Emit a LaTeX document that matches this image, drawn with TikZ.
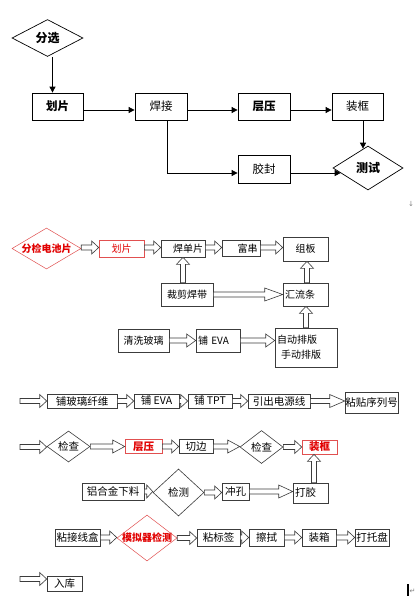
\documentclass[tikz,border=0pt]{standalone}
\usepackage{fontspec}
\setmainfont{Noto Sans CJK SC}
\newfontfamily\djv{DejaVu Sans}
\usetikzlibrary{shapes.geometric,arrows.meta,calc}
\newcommand\zw[1]{\makebox[0pt]{#1}}
\newcommand\hrarrow[3][7pt]{\path[hollow] let \p1=#2, \p2=#3 in
  (\x1,\y1-2.5pt) -- (\x2-#1,\y1-2.5pt) -- (\x2-#1,\y1-6.5pt) -- (\x2,\y1) -- (\x2-#1,\y1+6.5pt) -- (\x2-#1,\y1+2.5pt) -- (\x1,\y1+2.5pt) -- cycle;}
\newcommand\vuarrow[3][7pt]{\path[hollow] let \p1=#2, \p2=#3 in
  (\x1-2.5pt,\y1) -- (\x1-2.5pt,\y2-#1) -- (\x1-6.5pt,\y2-#1) -- (\x1,\y2) -- (\x1+6.5pt,\y2-#1) -- (\x1+2.5pt,\y2-#1) -- (\x1+2.5pt,\y1) -- cycle;}
\definecolor{lred}{RGB}{225,80,80}
\definecolor{tred}{RGB}{225,0,0}
\definecolor{lgray}{RGB}{60,60,60}
\tikzset{
  topbox/.style={draw=black, line width=0.8pt, inner sep=0pt, font=\fontsize{11.5}{12}\selectfont},
  topboxb/.style={topbox, font=\bfseries\fontsize{11.5}{12}\selectfont},
  topdia/.style={diamond, draw=black, line width=0.7pt, inner sep=0pt, font=\bfseries\fontsize{12}{12}\selectfont},
  arr/.style={draw=black, line width=0.8pt, -{Triangle[length=6pt,width=6pt]}},
  sbox/.style={draw=lgray, line width=0.6pt, inner sep=0pt, font=\fontsize{10}{12}\selectfont},
  lbox/.style={draw=lgray, line width=0.6pt, inner sep=0pt, font=\fontsize{10.5}{12}\selectfont},
  ldia/.style={diamond, draw=lgray, line width=0.6pt, inner sep=0pt, font=\fontsize{10.5}{12}\selectfont},
  redbox/.style={draw=lred, line width=0.6pt, inner sep=0pt, text=tred, font=\bfseries\fontsize{10.5}{12}\selectfont},
  reddia/.style={diamond, draw=lred, line width=0.5pt, inner sep=0pt, text=tred, font=\bfseries\fontsize{10.5}{12}\selectfont},
  hollow/.style={draw=lgray, line width=0.6pt, fill=white},
  lft/.style={align=left, text width=#1, inner xsep=2pt},
  rgt/.style={align=right, text width=#1, inner xsep=2pt},
}
\begin{document}
\begin{tikzpicture}[x=1pt,y=-1pt]
\useasboundingbox[fill=white] (0,0) rectangle (416,600);
% ---------- top flowchart ----------
\node[topdia, minimum width=71pt, minimum height=37pt] (fx) at (47.5,38) {\zw{分选}};
\node[topboxb, minimum width=51pt, minimum height=27pt] (hp1) at (57.5,106.5) {划片};
\node[topbox, minimum width=52pt, minimum height=27pt] (hj) at (161,106.5) {焊接};
\node[topboxb, minimum width=52pt, minimum height=27pt] (cy) at (264,106.5) {层压};
\node[topbox, minimum width=51pt, minimum height=27pt] (zk) at (357.5,106.5) {装框};
\node[topbox, minimum width=52pt, minimum height=28pt] (jf) at (264,169) {胶封};
\node[topdia, minimum width=70pt, minimum height=44pt] (cs) at (368,168) {\zw{测试}};
\draw[arr] ([xshift=5pt]fx.south) -- ([xshift=5pt]fx.south |- hp1.north);
\draw[arr] ([yshift=-3.5pt]hp1.east) -- ([yshift=-3.5pt]hj.west);
\draw[arr] ([yshift=-3.5pt]hj.east) -- ([yshift=-3.5pt]cy.west);
\draw[arr] ([yshift=-3.5pt]cy.east) -- ([yshift=-3.5pt]zk.west);
\draw[arr] ([xshift=5.5pt]zk.south) -- ([xshift=5.5pt,yshift=-3pt]zk.south |- cs.north);
\draw[arr] ([xshift=6pt]hj.south) |- ([yshift=-4pt]jf.west);
\draw[arr] ([yshift=-4pt]jf.east) -- ([xshift=8pt,yshift=-5pt]cs.west);
\node[text=gray, font=\djv\fontsize{7}{8}\selectfont, inner sep=0pt] (m1) at (411,204) {↓};
% ---------- second block ----------
\node[reddia, minimum width=69pt, minimum height=41pt, font=\bfseries\fontsize{10}{12}\selectfont] (fj) at (46.5,248.5) {\zw{分检电池片}};
\node[redbox, minimum width=45pt, minimum height=17pt, font=\fontsize{10}{12}\selectfont] (hp2) at (121.5,248.5) {划片};
\node[sbox, minimum width=44pt, minimum height=17pt, rgt=40pt] (hdp) at (183,248.5) {焊单片};
\node[sbox, minimum width=38pt, minimum height=16pt, rgt=33pt] (fc) at (241,248.5) {富串};
\node[sbox, minimum width=45pt, minimum height=24pt] (zb) at (305.5,249) {组板};
\node[sbox, minimum width=52pt, minimum height=23pt] (cjhd) at (187,294.5) {裁剪焊带};
\node[sbox, minimum width=45pt, minimum height=23pt, lft=41pt] (hlt) at (305.5,294.5) {汇流条};
\node[sbox, minimum width=51pt, minimum height=23pt] (qxbl) at (143.5,340.5) {清洗玻璃};
\node[sbox, minimum width=44pt, minimum height=23pt, lft=40pt] (peva) at (218,340.5) {铺 EVA};
\node[sbox, minimum width=62pt, minimum height=39pt, lft=58pt, font=\fontsize{10}{15}\selectfont] (pb) at (306,347.5) {自动排版\\\hspace*{4pt}手动排版};
\hrarrow{([yshift=1pt]fj.east)}{(hp2.west)}
\hrarrow{([yshift=1pt]hp2.east)}{(hdp.west)}
\hrarrow{([yshift=1pt]hdp.east)}{(fc.west)}
\hrarrow{([yshift=1pt]fc.east)}{(zb.west)}
\vuarrow{([xshift=-4pt]cjhd.north)}{(hdp.south)}
\hrarrow[18pt]{(cjhd.east)}{(hlt.west)}
\vuarrow{([xshift=1.5pt]hlt.north)}{(zb.south)}
\hrarrow[9pt]{(qxbl.east)}{(peva.west)}
\hrarrow[9pt]{(peva.east)}{(peva.east -| pb.west)}
\vuarrow{(pb.north)}{(hlt.south)}
% ---------- row 1 ----------
\coordinate (s1) at (20,401);
\node[lbox, minimum width=70pt, minimum height=14pt] (pbx) at (82,401) {铺玻璃纤维};
\node[lbox, minimum width=45pt, minimum height=14pt] (peva2) at (156.5,401) {铺 EVA};
\node[lbox, minimum width=44pt, minimum height=14pt] (ptpt) at (210,401) {铺 TPT};
\node[lbox, minimum width=62pt, minimum height=14pt] (ycd) at (279,401) {引出电源线};
\node[lbox, minimum width=53pt, minimum height=21pt] (ztx) at (371.5,402.5) {粘贴序列号};
\hrarrow{(s1)}{(pbx.west)}
\hrarrow{(pbx.east)}{(peva2.west)}
\hrarrow{(peva2.east)}{(ptpt.west)}
\hrarrow{(ptpt.east)}{(ycd.west)}
\hrarrow[15pt]{(ycd.east)}{(ycd.east -| ztx.west)}
% ---------- row 2 ----------
\coordinate (s2) at (20,447);
\node[ldia, minimum width=43pt, minimum height=31pt] (jc1) at (68.5,446.5) {\zw{检查}};
\node[redbox, minimum width=37pt, minimum height=14pt] (cy2) at (143.5,446.5) {层压};
\node[lbox, minimum width=34pt, minimum height=14pt] (qb) at (196,446.5) {切边};
\node[ldia, minimum width=43pt, minimum height=33pt] (jc2) at (261.5,447) {\zw{检查}};
\node[redbox, minimum width=35pt, minimum height=14pt] (zk2) at (319.5,447) {装框};
\hrarrow{(s2)}{(jc1.west)}
\hrarrow[12pt]{(jc1.east)}{(cy2.west)}
\hrarrow{(cy2.east)}{(qb.west)}
\hrarrow[12pt]{(qb.east)}{(jc2.west)}
\hrarrow{(jc2.east)}{(zk2.west)}
% ---------- row 3 ----------
\node[lbox, minimum width=62pt, minimum height=17pt] (lhj) at (113,491.5) {铝合金下料};
\node[ldia, minimum width=51pt, minimum height=47pt] (jc3) at (178.5,492.5) {\zw{检测}};
\node[lbox, minimum width=27pt, minimum height=17pt] (ck) at (235.5,491.5) {冲孔};
\node[lbox, minimum width=35pt, minimum height=20pt, lft=31pt] (dj) at (310.5,493) {打胶};
\hrarrow[6pt]{(lhj.east)}{(lhj.east -| jc3.west)}
\hrarrow{(jc3.east)}{(ck.west)}
\hrarrow[14pt]{(ck.east)}{(ck.east -| dj.west)}
\vuarrow{([xshift=3.5pt]dj.north)}{(zk2.south)}
% ---------- row 4 ----------
\node[lbox, minimum width=45pt, minimum height=17pt] (zjx) at (77.5,537.5) {粘接线盒};
\node[reddia, minimum width=60pt, minimum height=46pt, font=\bfseries\fontsize{10}{12}\selectfont] (mnq) at (147,538) {\zw{模拟器检测}};
\node[lbox, minimum width=43pt, minimum height=17pt] (zbq) at (218.5,537.5) {粘标签};
\node[lbox, minimum width=35pt, minimum height=17pt] (cs2) at (266.5,537.5) {擦拭};
\node[lbox, minimum width=34pt, minimum height=17pt] (zx) at (319,537.5) {装箱};
\node[lbox, minimum width=34pt, minimum height=17pt] (dtp) at (372,537.5) {\makebox[30pt]{打托盘}};
\hrarrow{(zjx.east)}{(zjx.east -| mnq.west)}
\hrarrow{(mnq.east)}{(mnq.east -| zbq.west)}
\hrarrow{(zbq.east)}{(cs2.west)}
\hrarrow{(cs2.east)}{(zx.west)}
\hrarrow{(zx.east)}{(dtp.west)}
% ---------- row 5 ----------
\coordinate (s5) at (20,579);
\node[lbox, minimum width=35pt, minimum height=15pt] (rk) at (64.5,583.5) {入库};
\hrarrow{(s5)}{(s5 -| rk.west)}
% end marks
\fill[black] (406.5,584) rectangle (408.5,596);
\node[text=gray, font=\djv\fontsize{7}{8}\selectfont, inner sep=0pt] (m2) at (412.5,591) {↵};
\end{tikzpicture}
\end{document}
